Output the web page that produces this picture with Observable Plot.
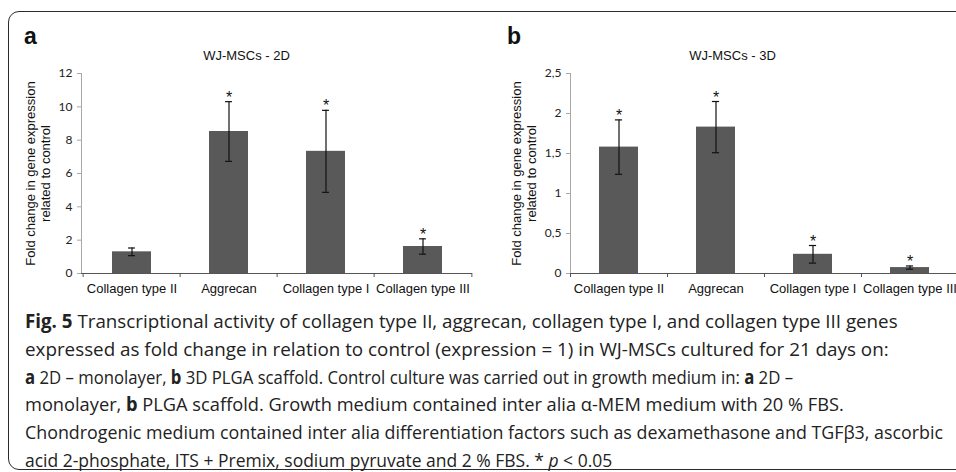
<!DOCTYPE html>
<html>
<head>
<meta charset="utf-8">
<script src="https://cdn.jsdelivr.net/npm/d3@7"></script>
<script src="https://cdn.jsdelivr.net/npm/@observablehq/plot@0.6"></script>
<style>
  html, body { margin: 0; padding: 0; background: #fff; }
  body { width: 956px; height: 472px; overflow: hidden; position: relative; }
  #frame { position: absolute; left: 8px; top: 11px; width: 1000px; height: 459px;
           border: 1.5px solid #2b2b2b; border-radius: 11px; box-sizing: border-box; }
  .panel { position: absolute; top: 0; }
  .panel svg { max-width: none !important; }
  .tag { position: absolute; font-family: "Liberation Sans", Arial, sans-serif; font-weight: bold;
         font-size: 23px; line-height: 1; color: #111; }
  #caption { position: absolute; left: 25px; top: 308px; font-family: "Open Sans", sans-serif;
             font-size: 19px; line-height: 27.8px; color: #222; white-space: nowrap; }
  #caption div { transform-origin: 0 0; }
  #caption b { font-weight: 700; }
</style>
</head>
<body>
<div id="frame"></div>
<div id="chartA" class="panel" style="left:0px"></div>
<div id="chartB" class="panel" style="left:476px"></div>
<div class="tag" style="left:24px; top:25px">a</div>
<div class="tag" style="left:507px; top:25px">b</div>
<div id="caption">
<div style="transform:scaleX(0.987)"><b>Fig. 5</b> Transcriptional activity of collagen type II, aggrecan, collagen type I, and collagen type III genes</div>
<div style="transform:scaleX(0.99)">expressed as fold change in relation to control (expression = 1) in WJ-MSCs cultured for 21 days on:</div>
<div style="transform:scaleX(0.88)"><b>a</b> 2D – monolayer, <b>b</b> 3D PLGA scaffold. Control culture was carried out in growth medium in: <b>a</b> 2D –</div>
<div style="transform:scaleX(0.96)">monolayer, <b>b</b> PLGA scaffold. Growth medium contained inter alia α-MEM medium with 20 % FBS.</div>
<div style="transform:scaleX(0.938)">Chondrogenic medium contained inter alia differentiation factors such as dexamethasone and TGFβ3, ascorbic</div>
<div style="transform:scaleX(0.92)">acid 2-phosphate, ITS + Premix, sodium pyruvate and 2 % FBS. * <i>p</i> &lt; 0.05</div>
</div>
<script>
// ---- data ----
const categories = ["Collagen type II", "Aggrecan", "Collagen type I", "Collagen type III"];

const titleA = "WJ-MSCs - 2D";
const meanA = [1.30, 8.52, 7.33, 1.62];
const errA  = [0.23, 1.79, 2.46, 0.46];
const sigA  = [false, true, true, true];
const ticksA = [0, 2, 4, 6, 8, 10, 12];
const tickLabelsA = ["0", "2", "4", "6", "8", "10", "12"];

const titleB = "WJ-MSCs - 3D";
const meanB = [1.58, 1.83, 0.24, 0.074];
const errB  = [0.34, 0.32, 0.11, 0.02];
const sigB  = [true, true, true, true];
const ticksB = [0, 0.5, 1, 1.5, 2, 2.5];
const tickLabelsB = ["0", "0,5", "1", "1,5", "2", "2,5"];

const yLabel = "Fold change in gene expression\nrelated to control";

function panel({width, marginLeft, marginRight, title, titleX, mean, err, sig, ticks, tickLabels, ylabelDx}) {
  const data = categories.map((c, i) => ({cat: c, mean: mean[i], lo: mean[i] - err[i], hi: mean[i] + err[i], sig: sig[i]}));
  const height = 300, marginTop = 73, marginBottom = 27;
  const step = (width - marginLeft - marginRight) / categories.length;
  const font = "'Liberation Sans', Arial, sans-serif";
  const capInset = step * 0.2 - 3.5;
  return Plot.plot({
    width, height, marginTop, marginBottom, marginLeft, marginRight,
    style: {fontFamily: font, fontSize: "13px", background: "transparent", overflow: "visible", color: "#111"},
    x: {domain: categories, paddingInner: 0.6, paddingOuter: 0.3, axis: null},
    y: {domain: [ticks[0], ticks[ticks.length - 1]], axis: null},
    marks: [
      Plot.barY(data, {x: "cat", y: "mean", fill: "#595959"}),
      Plot.ruleX(data, {x: "cat", y1: "lo", y2: "hi", stroke: "#111", strokeWidth: 1.2}),
      Plot.tickY(data, {x: "cat", y: "hi", stroke: "#111", strokeWidth: 1.2, insetLeft: capInset, insetRight: capInset}),
      Plot.tickY(data, {x: "cat", y: "lo", stroke: "#111", strokeWidth: 1.2, insetLeft: capInset, insetRight: capInset}),
      Plot.text(data.filter(d => d.sig), {x: "cat", y: "hi", text: () => "*", fontSize: 16, dy: -4, fill: "#111"}),
      // y axis
      Plot.frame({anchor: "left", stroke: "#a8a8a8"}),
      Plot.axisY({ticks, tickFormat: (d, i) => tickLabels[i], tickSize: 4, tickPadding: 5, stroke: "#a8a8a8",
                  fontSize: 12, fontFamily: "Lato, sans-serif", fill: "#222", label: null}),
      // x axis line + boundary ticks
      Plot.ruleY([0], {stroke: "#555", strokeWidth: 1.2}),
      Plot.axisX({tickSize: 4, tickFormat: () => "", dx: -step / 2, stroke: "#555", label: null}),
      Plot.axisX({ticks: [categories[categories.length - 1]], tickSize: 4, tickFormat: () => "", dx: step / 2, stroke: "#555", label: null}),
      Plot.axisX({tickSize: 0, tickPadding: 10, fontSize: 13, fill: "#111", label: null}),
      // title and y label
      Plot.text([title], {frameAnchor: "top-left", dx: titleX - marginLeft, dy: -23, textAnchor: "middle", fontSize: 13, fill: "#111"}),
      Plot.text([yLabel], {frameAnchor: "left", rotate: -90, dx: ylabelDx, lineHeight: 1.15, fontSize: 13, textAnchor: "middle", fill: "#111"})
    ]
  });
}

document.getElementById("chartA").append(panel({
  width: 476, marginLeft: 81, marginRight: 4, title: titleA, titleX: 246,
  mean: meanA, err: errA, sig: sigA, ticks: ticksA, tickLabels: tickLabelsA, ylabelDx: -43.5
}));
document.getElementById("chartB").append(panel({
  width: 490, marginLeft: 94, marginRight: 8, title: titleB, titleX: 256,
  mean: meanB, err: errB, sig: sigB, ticks: ticksB, tickLabels: tickLabelsB, ylabelDx: -47
}));
</script>
</body>
</html>
